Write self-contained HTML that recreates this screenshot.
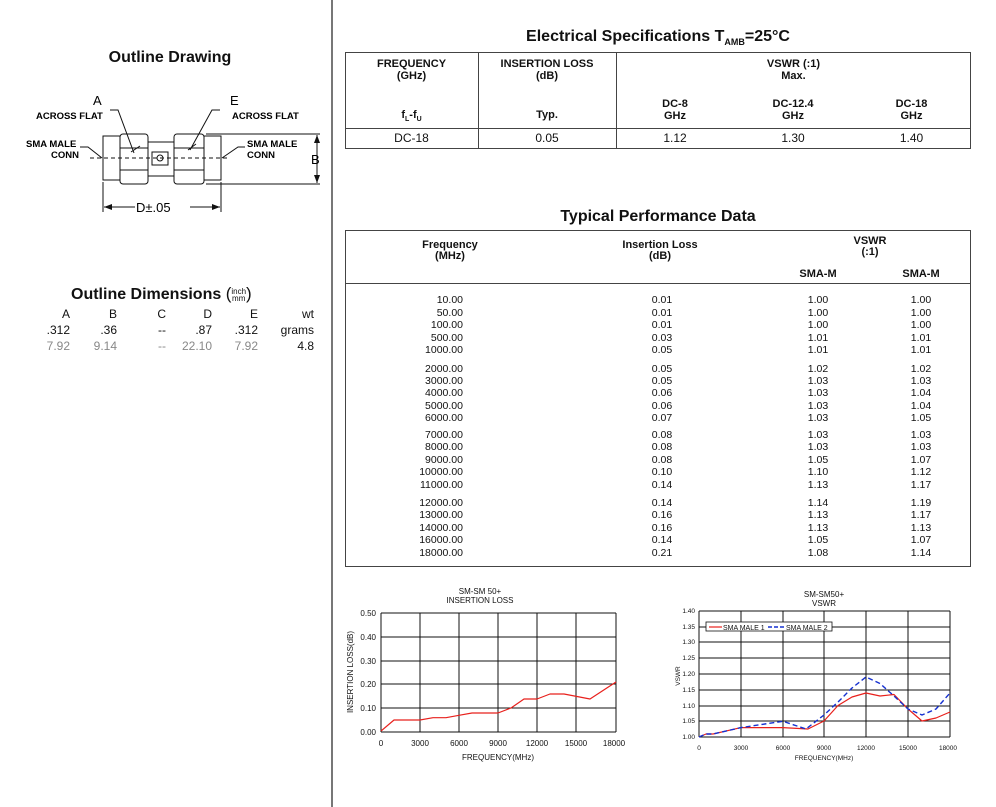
<!DOCTYPE html>
<html><head><meta charset="utf-8"><style>
body{margin:0;width:996px;height:807px;background:#fff;font-family:"Liberation Sans",Arial,sans-serif;position:relative;overflow:hidden;color:#111}
.a{position:absolute;white-space:nowrap}
.b{font-weight:bold}
.r{text-align:right}
.c{text-align:center}
</style></head><body>
<div class="a" style="left:331px;top:0;width:2px;height:807px;background:#777"></div>

<div class="a b c" style="left:70px;top:49px;width:200px;font-size:16px">Outline Drawing</div>
<svg class="a" style="left:0;top:80px" width="330" height="140" font-family="Liberation Sans, sans-serif" font-size="10" font-weight="bold">
<g stroke="#111" stroke-width="1" fill="none">
<rect x="103" y="56" width="17" height="44"/>
<rect x="120" y="54" width="28" height="50" rx="3"/>
<line x1="120" y1="68" x2="148" y2="68"/><line x1="120" y1="90" x2="148" y2="90"/>
<rect x="148" y="62" width="26" height="34"/>
<rect x="152" y="72" width="16" height="13"/>
<circle cx="160" cy="78" r="3"/>
<rect x="174" y="54" width="30" height="50" rx="3"/>
<line x1="174" y1="68" x2="204" y2="68"/><line x1="174" y1="90" x2="204" y2="90"/>
<rect x="204" y="56" width="17" height="44"/>
<line x1="90" y1="78" x2="230" y2="78" stroke-dasharray="4,3"/>
<path d="M110 30 L118 30 L134 73 M131 72 L140 66"/>
<path d="M220 30 L212 30 L190 70 M188 70 L196 64"/>
<path d="M80 67 L88 67 L102 78"/><path d="M245 67 L238 67 L222 78"/>
<line x1="206" y1="54" x2="320" y2="54"/><line x1="206" y1="104" x2="320" y2="104"/>
<line x1="317" y1="55" x2="317" y2="103"/>
<line x1="103" y1="102" x2="103" y2="132"/><line x1="221" y1="102" x2="221" y2="132"/>
<line x1="104" y1="127" x2="135" y2="127"/><line x1="190" y1="127" x2="220" y2="127"/>
</g>
<path d="M317 55 l-3 8 h6z M317 103 l-3 -8 h6z M104 127 l8 -3 v6z M220 127 l-8 -3 v6z" fill="#111"/>
<text x="93" y="25" font-size="13" font-weight="normal">A</text>
<text x="36" y="39" font-size="9.5">ACROSS FLAT</text>
<text x="230" y="25" font-size="13" font-weight="normal">E</text>
<text x="232" y="39" font-size="9.5">ACROSS FLAT</text>
<text x="26" y="67" font-size="9.5">SMA MALE</text>
<text x="51" y="78" font-size="9.5">CONN</text>
<text x="247" y="67" font-size="9.5">SMA MALE</text>
<text x="247" y="78" font-size="9.5">CONN</text>
<text x="311" y="84" font-size="13" font-weight="normal">B</text>
<text x="136" y="132" font-size="13" font-weight="normal">D±.05</text>
</svg>

<div class="a b" style="left:71px;top:284px;font-size:16px">Outline Dimensions <span style="font-weight:normal;font-size:17px">(</span><span style="display:inline-block;font-size:8px;line-height:7px;vertical-align:middle;text-align:center;font-weight:normal">inch<br>mm</span><span style="font-weight:normal;font-size:17px">)</span></div>
<div style="font-size:12px">
<div class="a r" style="left:20px;top:307px;width:50px">A</div>
<div class="a r" style="left:67px;top:307px;width:50px">B</div>
<div class="a r" style="left:116px;top:307px;width:50px">C</div>
<div class="a r" style="left:162px;top:307px;width:50px">D</div>
<div class="a r" style="left:208px;top:307px;width:50px">E</div>
<div class="a r" style="left:264px;top:307px;width:50px">wt</div>
<div class="a r" style="left:20px;top:323px;width:50px">.312</div>
<div class="a r" style="left:67px;top:323px;width:50px">.36</div>
<div class="a r" style="left:116px;top:323px;width:50px">--</div>
<div class="a r" style="left:162px;top:323px;width:50px">.87</div>
<div class="a r" style="left:208px;top:323px;width:50px">.312</div>
<div class="a r" style="left:254px;top:323px;width:60px">grams</div>
<div style="color:#888">
<div class="a r" style="left:20px;top:339px;width:50px">7.92</div>
<div class="a r" style="left:67px;top:339px;width:50px">9.14</div>
<div class="a r" style="left:116px;top:339px;width:50px">--</div>
<div class="a r" style="left:162px;top:339px;width:50px">22.10</div>
<div class="a r" style="left:208px;top:339px;width:50px">7.92</div>
</div>
<div class="a r" style="left:264px;top:339px;width:50px">4.8</div>
</div>

<!-- Electrical specs -->
<div class="a b c" style="left:345px;top:28px;width:626px;font-size:16px">Electrical Specifications T<sub style="font-size:9px">AMB</sub>=25°C</div>
<div class="a" style="left:345px;top:52px;width:624px;height:95px;border:1px solid #444"></div>
<div class="a" style="left:478px;top:52px;width:1px;height:96px;background:#444"></div>
<div class="a" style="left:616px;top:52px;width:1px;height:96px;background:#444"></div>
<div class="a" style="left:345px;top:128px;width:626px;height:1px;background:#444"></div>
<div style="font-size:11px">
<div class="a b c" style="left:345px;top:58px;width:133px;line-height:12px">FREQUENCY<br>(GHz)</div>
<div class="a b c" style="left:478px;top:58px;width:138px;line-height:12px">INSERTION LOSS<br>(dB)</div>
<div class="a b c" style="left:616px;top:58px;width:355px;line-height:12px">VSWR (:1)<br>Max.</div>
<div class="a b c" style="left:345px;top:109px;width:133px">f<sub style="font-size:7px">L</sub>-f<sub style="font-size:7px">U</sub></div>
<div class="a b c" style="left:478px;top:109px;width:138px">Typ.</div>
<div class="a b c" style="left:616px;top:98px;width:118px;line-height:12px">DC-8<br>GHz</div>
<div class="a b c" style="left:734px;top:98px;width:118px;line-height:12px">DC-12.4<br>GHz</div>
<div class="a b c" style="left:852px;top:98px;width:119px;line-height:12px">DC-18<br>GHz</div>
<div class="a c" style="left:345px;top:131px;width:133px;font-size:12px">DC-18</div>
<div class="a c" style="left:478px;top:131px;width:138px;font-size:12px">0.05</div>
<div class="a c" style="left:616px;top:131px;width:118px;font-size:12px">1.12</div>
<div class="a c" style="left:734px;top:131px;width:118px;font-size:12px">1.30</div>
<div class="a c" style="left:852px;top:131px;width:119px;font-size:12px">1.40</div>
</div>

<!-- Typical performance -->
<div class="a b c" style="left:345px;top:208px;width:626px;font-size:16px">Typical Performance Data</div>
<div class="a" style="left:345px;top:230px;width:624px;height:335px;border:1px solid #444"></div>
<div class="a" style="left:345px;top:283px;width:626px;height:1px;background:#444"></div>
<div style="font-size:11px">
<div class="a b c" style="left:400px;top:240px;width:100px;line-height:11px">Frequency<br>(MHz)</div>
<div class="a b c" style="left:600px;top:240px;width:120px;line-height:11px">Insertion Loss<br>(dB)</div>
<div class="a b c" style="left:820px;top:236px;width:100px;line-height:11px">VSWR<br>(:1)</div>
<div class="a b c" style="left:778px;top:268px;width:80px">SMA-M</div>
<div class="a b c" style="left:881px;top:268px;width:80px">SMA-M</div>
</div>
<div id="rows" style="font-size:10.5px"></div>
<svg class="a" style="left:0;top:0" width="996" height="807" font-family="Liberation Sans, sans-serif">
<g font-size="10.5" fill="#111">
<g text-anchor="end">
<text x="463" y="303">10.00</text><text x="463" y="316">50.00</text><text x="463" y="328">100.00</text><text x="463" y="341">500.00</text><text x="463" y="353">1000.00</text>
<text x="463" y="372">2000.00</text><text x="463" y="384">3000.00</text><text x="463" y="396">4000.00</text><text x="463" y="409">5000.00</text><text x="463" y="421">6000.00</text>
<text x="463" y="438">7000.00</text><text x="463" y="450">8000.00</text><text x="463" y="463">9000.00</text><text x="463" y="475">10000.00</text><text x="463" y="488">11000.00</text>
<text x="463" y="506">12000.00</text><text x="463" y="518">13000.00</text><text x="463" y="531">14000.00</text><text x="463" y="543">16000.00</text><text x="463" y="556">18000.00</text>
</g>
<g text-anchor="middle">
<text x="662" y="303">0.01</text><text x="662" y="316">0.01</text><text x="662" y="328">0.01</text><text x="662" y="341">0.03</text><text x="662" y="353">0.05</text>
<text x="662" y="372">0.05</text><text x="662" y="384">0.05</text><text x="662" y="396">0.06</text><text x="662" y="409">0.06</text><text x="662" y="421">0.07</text>
<text x="662" y="438">0.08</text><text x="662" y="450">0.08</text><text x="662" y="463">0.08</text><text x="662" y="475">0.10</text><text x="662" y="488">0.14</text>
<text x="662" y="506">0.14</text><text x="662" y="518">0.16</text><text x="662" y="531">0.16</text><text x="662" y="543">0.14</text><text x="662" y="556">0.21</text>

<text x="818" y="303">1.00</text><text x="818" y="316">1.00</text><text x="818" y="328">1.00</text><text x="818" y="341">1.01</text><text x="818" y="353">1.01</text>
<text x="818" y="372">1.02</text><text x="818" y="384">1.03</text><text x="818" y="396">1.03</text><text x="818" y="409">1.03</text><text x="818" y="421">1.03</text>
<text x="818" y="438">1.03</text><text x="818" y="450">1.03</text><text x="818" y="463">1.05</text><text x="818" y="475">1.10</text><text x="818" y="488">1.13</text>
<text x="818" y="506">1.14</text><text x="818" y="518">1.13</text><text x="818" y="531">1.13</text><text x="818" y="543">1.05</text><text x="818" y="556">1.08</text>

<text x="921" y="303">1.00</text><text x="921" y="316">1.00</text><text x="921" y="328">1.00</text><text x="921" y="341">1.01</text><text x="921" y="353">1.01</text>
<text x="921" y="372">1.02</text><text x="921" y="384">1.03</text><text x="921" y="396">1.04</text><text x="921" y="409">1.04</text><text x="921" y="421">1.05</text>
<text x="921" y="438">1.03</text><text x="921" y="450">1.03</text><text x="921" y="463">1.07</text><text x="921" y="475">1.12</text><text x="921" y="488">1.17</text>
<text x="921" y="506">1.19</text><text x="921" y="518">1.17</text><text x="921" y="531">1.13</text><text x="921" y="543">1.07</text><text x="921" y="556">1.14</text>
</g>
</g>

<!-- Left chart -->
<g stroke="#111" stroke-width="1">
<line x1="381" y1="613" x2="616" y2="613"/><line x1="381" y1="637" x2="616" y2="637"/><line x1="381" y1="661" x2="616" y2="661"/><line x1="381" y1="684" x2="616" y2="684"/><line x1="381" y1="708" x2="616" y2="708"/><line x1="381" y1="732" x2="616" y2="732"/>
<line x1="381" y1="613" x2="381" y2="732"/><line x1="420" y1="613" x2="420" y2="732"/><line x1="459" y1="613" x2="459" y2="732"/><line x1="498" y1="613" x2="498" y2="732"/><line x1="537" y1="613" x2="537" y2="732"/><line x1="576" y1="613" x2="576" y2="732"/><line x1="616" y1="613" x2="616" y2="732"/>
</g>
<polyline fill="none" stroke="#e8201c" stroke-width="1.2" stroke-linejoin="round" points="381,731 394,720 420,720 433,717.7 446,717.7 459,715.3 472,713 485,713 498,713 511,708 524,699 537,699 550,694 564,694 590,699 616,682"/>
<g font-size="8" fill="#111">
<text x="480" y="594" text-anchor="middle">SM-SM 50+</text>
<text x="480" y="603" text-anchor="middle">INSERTION LOSS</text>
<g text-anchor="end"><text x="376" y="616">0.50</text><text x="376" y="640">0.40</text><text x="376" y="664">0.30</text><text x="376" y="687">0.20</text><text x="376" y="711">0.10</text><text x="376" y="735">0.00</text></g>
<g text-anchor="middle"><text x="381" y="746">0</text><text x="420" y="746">3000</text><text x="459" y="746">6000</text><text x="498" y="746">9000</text><text x="537" y="746">12000</text><text x="576" y="746">15000</text><text x="614" y="746">18000</text></g>
<text x="498" y="760" text-anchor="middle">FREQUENCY(MHz)</text>
<text transform="translate(353,672) rotate(-90)" text-anchor="middle">INSERTION LOSS(dB)</text>
</g>

<!-- Right chart -->
<g stroke="#111" stroke-width="1">
<line x1="699" y1="611" x2="950" y2="611"/><line x1="699" y1="627" x2="950" y2="627"/><line x1="699" y1="642" x2="950" y2="642"/><line x1="699" y1="658" x2="950" y2="658"/><line x1="699" y1="674" x2="950" y2="674"/><line x1="699" y1="690" x2="950" y2="690"/><line x1="699" y1="706" x2="950" y2="706"/><line x1="699" y1="721" x2="950" y2="721"/><line x1="699" y1="737" x2="950" y2="737"/>
<line x1="699" y1="611" x2="699" y2="737"/><line x1="741" y1="611" x2="741" y2="737"/><line x1="783" y1="611" x2="783" y2="737"/><line x1="824" y1="611" x2="824" y2="737"/><line x1="866" y1="611" x2="866" y2="737"/><line x1="908" y1="611" x2="908" y2="737"/><line x1="950" y1="611" x2="950" y2="737"/>
</g>
<polyline fill="none" stroke="#e8201c" stroke-width="1.2" stroke-linejoin="round" points="699,737 706,734 713,734 741,727.6 783,727.6 808,729 824,721 838,705.5 852,697 866,693 880,696 894,694.5 908,709 922,721 936,718 950,712"/>
<polyline fill="none" stroke="#1530d0" stroke-width="1.4" stroke-dasharray="5,3" stroke-linejoin="round" points="699,737 706,734 713,734 741,727.6 762,724.4 783,721.3 806,729 824,715 838,702 852,688 866,677 880,683.5 894,696 908,709 922,715 936,709 950,693"/>
<rect x="706" y="622" width="126" height="9" fill="#fff" stroke="#111" stroke-width="0.8"/>
<line x1="709" y1="627" x2="722" y2="627" stroke="#e8201c" stroke-width="1.2"/>
<line x1="768" y1="627" x2="785" y2="627" stroke="#1530d0" stroke-width="1.6" stroke-dasharray="4,2"/>
<g font-size="7" fill="#111">
<text x="723" y="630">SMA MALE 1</text><text x="786" y="630">SMA MALE 2</text>
<text x="824" y="597" text-anchor="middle" font-size="8">SM-SM50+</text>
<text x="824" y="606" text-anchor="middle" font-size="8">VSWR</text>
<g text-anchor="end" font-size="6.5"><text x="695" y="613">1.40</text><text x="695" y="629">1.35</text><text x="695" y="644">1.30</text><text x="695" y="660">1.25</text><text x="695" y="676">1.20</text><text x="695" y="692">1.15</text><text x="695" y="708">1.10</text><text x="695" y="723">1.05</text><text x="695" y="739">1.00</text></g>
<g text-anchor="middle" font-size="6.5"><text x="699" y="750">0</text><text x="741" y="750">3000</text><text x="783" y="750">6000</text><text x="824" y="750">9000</text><text x="866" y="750">12000</text><text x="908" y="750">15000</text><text x="948" y="750">18000</text></g>
<text x="824" y="760" text-anchor="middle" font-size="6.5">FREQUENCY(MHz)</text>
<text transform="translate(680,676) rotate(-90)" text-anchor="middle" font-size="6.5">VSWR</text>
</g>
</svg>
</body></html>
